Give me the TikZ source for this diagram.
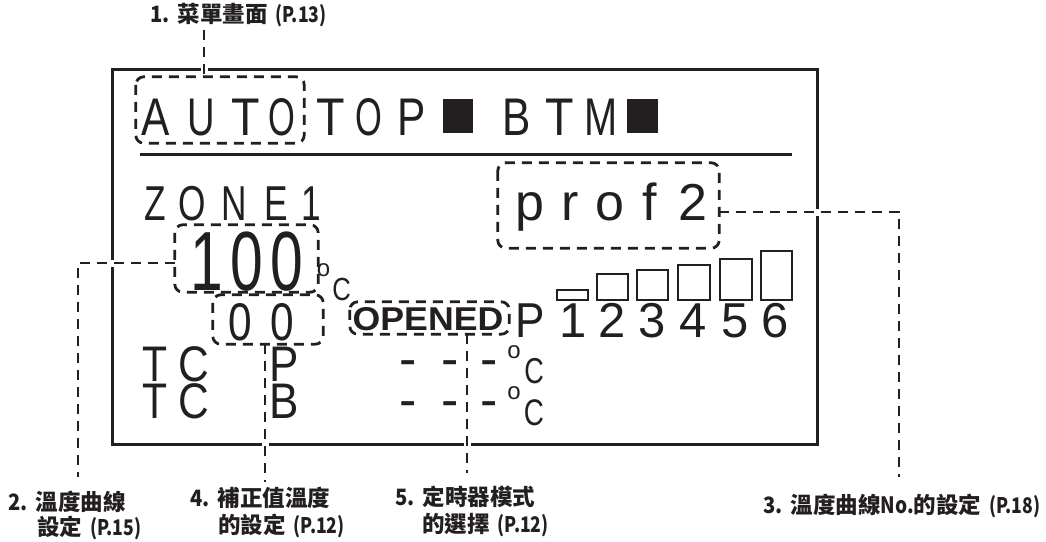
\documentclass[tikz,border=0pt]{standalone}
\usepackage{graphicx}
\usepackage{fontspec}
\setmainfont{Liberation Sans}
\newfontfamily\lcdfont{Liberation Sans}
\newfontfamily\cjkfont{Noto Sans CJK TC}
\definecolor{ink}{HTML}{231F20}
\newcommand\lcdsz[1]{\fontsize{#1}{#1}\selectfont}
\newcommand\nx[2]{\scalebox{#1}[1]{#2}}
\newcommand\labnum[1]{\scalebox{0.9}[1]{#1.}\hspace{0.35em}}
\newcommand\labref[1]{\hspace{0.35em}\scalebox{0.82}[1]{\fontsize{21.5}{21.5}\selectfont(P.#1)}}
\begin{document}
\begin{tikzpicture}[x=1pt,y=-1pt,color=ink,
  lcdch/.style={inner sep=0pt, anchor=base},
  hole/.style={inner sep=0pt},
  dboxline/.style={draw=ink, line width=2.8pt, dash pattern=on 10pt off 7pt, rounded corners=8pt},
  dline/.style={draw=ink, line width=2.8pt, dash pattern=on 10pt off 7pt, preaction={draw=white, solid, line width=7pt}},
  lab/.style={inner sep=0pt, anchor=base west, font=\cjkfont\bfseries\lcdsz{22.5}},
  bar/.style={draw=ink, line width=2.5pt},
]
\useasboundingbox (0,0) rectangle (1046,541);
\fill[white] (0,0) rectangle (1046,541);
% screen
\node[draw=ink, line width=3pt, minimum width=705pt, minimum height=375pt, inner sep=0pt] (screen) at (464.5,256.5) {};
\draw[line width=2.5pt] (140,154.5) -- (792,154.5);
% box placeholders
\node[hole, minimum width=168pt, minimum height=66pt] (autobox) at (220,110) {};
\node[hole, minimum width=221pt, minimum height=85pt] (profbox) at (608.5,205.5) {};
\node[hole, minimum width=143pt, minimum height=67pt] (box100) at (246.5,258.5) {};
\node[hole, minimum width=110pt, minimum height=49pt] (box00) at (268,319.5) {};
\node[hole, minimum width=159pt, minimum height=32pt] (boxopen) at (429.5,318) {};
% row 1
\foreach \ch/\xx/\sc [count=\i] in {A/156/0.8,U/201.5/0.72,T/246/0.88,O/281.5/0.65,T/331/0.88,O/368.5/0.65,P/411.5/0.8,B/516.5/0.8,T/560/0.88,M/601.5/0.75}
  \node[lcdch, font=\lcdfont\lcdsz{53}] (ra\i) at (\xx,135) {\nx{\sc}{\ch}};
\fill (443,99) rectangle (473,133);
\fill (627,99) rectangle (658,133);
% ZONE1
\foreach \ch/\xx [count=\i] in {Z/155,O/192.5,N/234,E/276,1/311.5}
  \node[lcdch, font=\lcdfont\lcdsz{49}] (rz\i) at (\xx,220) {\nx{0.72}{\ch}};
% prof2
\foreach \ch/\xx [count=\i] in {p/530,r/570,o/610,f/650,2/693}
  \node[lcdch, font=\lcdfont\lcdsz{52}] (rp\i) at (\xx,220) {\ch};
% 100
\foreach \ch/\xx [count=\i] in {1/207,0/246.5,0/286.5}
  \node[lcdch, font=\lcdfont\lcdsz{84}] (rh\i) at (\xx,290) {\nx{0.7}{\ch}};
\node[lcdch, font=\lcdfont\lcdsz{24}] (dega) at (323.5,276) {o};
\node[lcdch, font=\lcdfont\lcdsz{32}] (cea) at (341.5,300) {\nx{0.8}{C}};
% 00
\foreach \ch/\xx [count=\i] in {0/240,0/282.5}
  \node[lcdch, font=\lcdfont\lcdsz{53}] (ro\i) at (\xx,340) {\nx{0.8}{\ch}};
% OPENED
\node[lcdch, font=\lcdfont\bfseries\lcdsz{33}] (opened) at (428,330) {\nx{1.08}{OPENED}};
% P123456
\node[lcdch, font=\lcdfont\lcdsz{49}] (pp) at (530,337) {\nx{0.9}{P}};
\foreach \ch/\xx [count=\i] in {1/573,2/612,3/652,4/693,5/735,6/775}
  \node[lcdch, font=\lcdfont\lcdsz{49}] (pn\i) at (\xx,337) {\ch};
\draw[bar] (557,290) rectangle (588,300);
\draw[bar] (597,274) rectangle (628,300);
\draw[bar] (637,270) rectangle (668,300);
\draw[bar] (678,265) rectangle (710,300);
\draw[bar] (720,259) rectangle (752,300);
\draw[bar] (761,251) rectangle (792,300);
% TC rows
\foreach \yy/\lt [count=\j] in {381/P,418/B} {
  \node[lcdch, font=\lcdfont\lcdsz{50}] (tct\j) at (155,\yy) {\nx{0.82}{T}};
  \node[lcdch, font=\lcdfont\lcdsz{50}] (tcc\j) at (194,\yy) {\nx{0.85}{C}};
  \node[lcdch, font=\lcdfont\lcdsz{50}] (tcl\j) at (284,\yy) {\nx{0.88}{\lt}};
}
\foreach \yy/\dy [count=\j] in {376.5/358.5,417.5/399} {
  \node[lcdch, font=\lcdfont\lcdsz{52}] (dsa\j) at (408.5,\yy) {-};
  \node[lcdch, font=\lcdfont\lcdsz{52}] (dsb\j) at (450,\yy) {-};
  \node[lcdch, font=\lcdfont\lcdsz{52}] (dsc\j) at (489.5,\yy) {-};
  \node[lcdch, font=\lcdfont\lcdsz{24}] (dg\j) at (514,\dy) {o};
}
\node[lcdch, font=\lcdfont\lcdsz{36}] (ca1) at (534,383) {\nx{0.75}{C}};
\node[lcdch, font=\lcdfont\lcdsz{37}] (ca2) at (534,425) {\nx{0.75}{C}};
% labels
\node[lab] (l1) at (150,22) {\labnum{1}菜單畫面\labref{13}};
\node[lab] (l2a) at (8,510) {\labnum{2}溫度曲線};
\node[lab] (l2b) at (37,535) {設定\labref{15}};
\node[lab] (l4a) at (190,506) {\labnum{4}補正值溫度};
\node[lab] (l4b) at (218,533) {的設定\labref{12}};
\node[lab] (l5a) at (395,505) {\labnum{5}定時器模式};
\node[lab] (l5b) at (422,532) {的選擇\labref{12}};
\node[lab] (l3) at (763,513) {\labnum{3}溫度曲線\scalebox{0.85}[1]{No.}的設定\labref{18}};
% connectors
\coordinate (k1) at (204,30);
\draw[dline] (k1) -- (k1 |- autobox.north);
\coordinate (k2) at (78,263); \coordinate (e2) at (78,477);
\draw[dline] (box100.west |- k2) -- (k2) -- (e2);
\coordinate (k3) at (899,212); \coordinate (e3) at (899,477);
\draw[dline] (profbox.east |- k3) -- (k3) -- (e3);
\coordinate (e4) at (265,482);
\draw[dline] (box00.south -| e4) -- (e4);
\coordinate (e5) at (467,473);
\draw[dline] (boxopen.south -| e5) -- (e5);
% dashed boxes
\foreach \b in {autobox,profbox,box100,box00,boxopen}
  \draw[dboxline] (\b.north west) rectangle (\b.south east);
\end{tikzpicture}
\end{document}
